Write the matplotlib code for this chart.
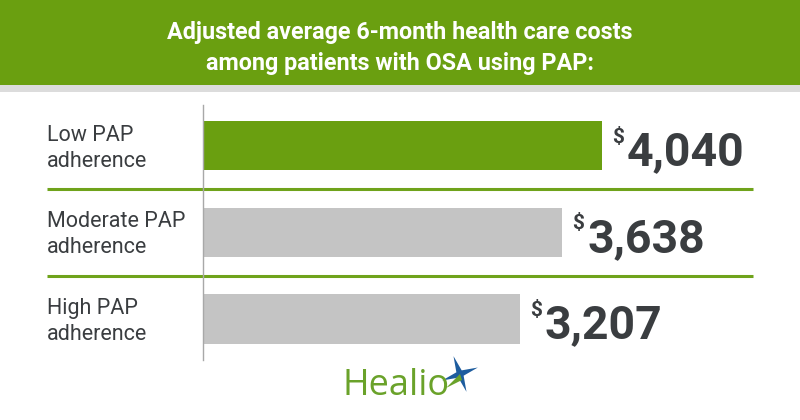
import matplotlib
matplotlib.use("Agg")
import matplotlib.pyplot as plt
from matplotlib import font_manager
from matplotlib.patches import Rectangle, Polygon
import numpy as np

title_lines = ["Adjusted average 6-month health care costs",
               "among patients with OSA using PAP:"]
categories = ["Low PAP\nadherence", "Moderate PAP\nadherence", "High PAP\nadherence"]
costs = [4040, 3638, 3207]
bar_colors = ["#6a9f10", "#c4c4c4", "#c4c4c4"]

GREEN = "#6a9f10"
DARK = "#3a3d40"

names = {f.name for f in font_manager.fontManager.ttflist}
title_font = "Liberation Sans Narrow" if "Liberation Sans Narrow" in names else "Roboto"

fig = plt.figure(figsize=(8, 4.2), dpi=100)
fig.patch.set_facecolor("white")

# background layer in pixel coords (header band, stripe, logo)
bg = fig.add_axes([0, 0, 1, 1], zorder=0)
bg.set_xlim(0, 800)
bg.set_ylim(420, 0)
bg.axis("off")
bg.add_patch(Rectangle((0, 0), 800, 85, color=GREEN, lw=0))
bg.add_patch(Rectangle((0, 85), 800, 7, color="#dcdcdc", lw=0))

tsize = 16.8 if title_font == "Roboto" else 16.5
bg.text(400, 39, title_lines[0], ha="center", va="baseline", color="white",
        fontsize=tsize, fontweight="bold", family=title_font)
bg.text(400, 70, title_lines[1], ha="center", va="baseline", color="white",
        fontsize=tsize, fontweight="bold", family=title_font)

# Healio logo
bg.text(343, 395, "Healio", ha="left", va="baseline", color="#6aa22a",
        fontsize=26, family="Open Sans")
cx, cy = 460, 374
ang = np.deg2rad(np.arange(8) * 45 + 20)
rad = np.where(np.arange(8) % 2 == 0, 19, 4)
star = np.column_stack([cx + rad * np.cos(ang), cy - rad * np.sin(ang)])
bg.add_patch(Polygon(star, closed=True, color="#1d5c9e", lw=0))
bg.add_patch(Polygon([[cx, cy], [cx - 14, cy + 14], [cx + 2, cy + 6]],
                     closed=True, color="#6aa22a", lw=0))

# bar chart
ax = fig.add_axes([203 / 800, 1 - 360 / 420, 550 / 800, 255 / 420], zorder=1)
ax.patch.set_alpha(0)
y = np.arange(len(costs))
ax.barh(y, costs, height=0.57, color=bar_colors, zorder=2)
ax.set_xlim(0, 5567)
ax.set_ylim(2.473, -0.467)

for s in ["top", "right", "bottom"]:
    ax.spines[s].set_visible(False)
ax.spines["left"].set_color("#a8a8a8")
ax.spines["left"].set_linewidth(1)
ax.set_xticks([])
ax.set_yticks([])

# separators between rows
ax.hlines([0.5, 1.5], -0.2836, 1.0, transform=ax.get_yaxis_transform(),
          colors="#6fa31b", lw=2.2, clip_on=False)

for yi, (lab, val) in enumerate(zip(categories, costs)):
    ax.text(-0.2836, yi + 0.03, lab, transform=ax.get_yaxis_transform(),
            ha="left", va="center", fontsize=15.5, color=DARK, family="Roboto",
            linespacing=1.3)
    ax.annotate("$", (val, yi), xytext=(10, 18), textcoords="offset pixels",
                ha="left", va="top", fontsize=15, fontweight="bold",
                color=DARK, family="Roboto")
    ax.annotate(f"{val:,}", (val, yi), xytext=(25, -19.5), textcoords="offset pixels",
                ha="left", va="baseline", fontsize=33.4, fontweight="bold",
                color=DARK, family="Roboto")

fig.savefig("out.png", dpi=100, facecolor="white")
